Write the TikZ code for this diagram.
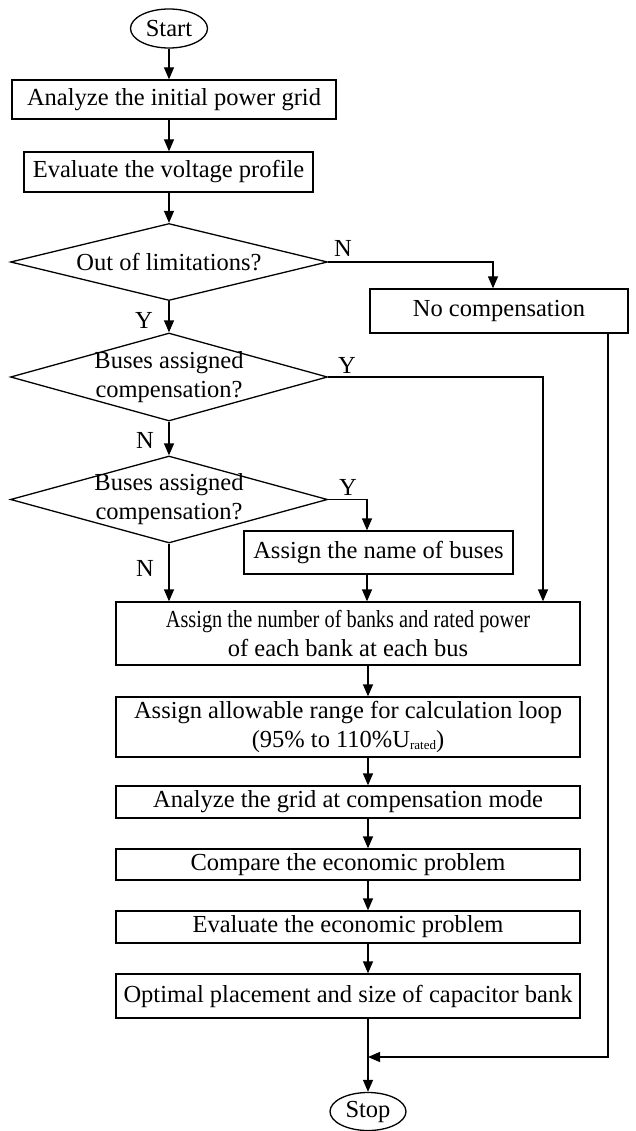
\documentclass[tikz,border=0pt]{standalone}
\usepackage{fontspec}
\setmainfont{Liberation Serif}
\usetikzlibrary{shapes.geometric,arrows.meta}
\begin{document}
\begin{tikzpicture}[x=1pt,y=-1pt,
  every node/.style={font=\fontsize{24.5}{29}\selectfont},
  line/.style={line width=1.3pt},
  arr/.style={line width=1.3pt,-{Triangle[length=12pt,width=10pt]}},
  procbox/.style={draw,line width=1.3pt,rectangle,inner sep=0pt,align=center},
  term/.style={draw,line width=1.3pt,ellipse,inner sep=0pt,minimum width=77pt,minimum height=39pt},
  dia/.style={draw,line width=1.3pt,diamond,inner sep=0pt},
  lbl/.style={inner sep=0pt}]
\useasboundingbox (0,0) rectangle (636,1131);
\coordinate (mx) at (169,0);
\coordinate (lx) at (368,0);
\node[term] (start) at (169,28.5) {Start};
\node[procbox,minimum width=324pt,minimum height=39pt] (b1) at (174,99.5) {Analyze the initial power grid};
\node[procbox,minimum width=289pt,minimum height=40pt] (b2) at (168.5,172) {Evaluate the voltage profile};
\node[dia,minimum width=317pt,minimum height=77pt,label={[lbl]center:Out of limitations?}] (d1) at (169,262) {};
\node[procbox,minimum width=258pt,minimum height=44pt] (nc) at (499,311) {No compensation};
\node[dia,minimum width=317pt,minimum height=88pt,label={[lbl,align=center]center:Buses assigned\\compensation?}] (d2) at (169,377) {};
\node[dia,minimum width=317pt,minimum height=87pt,label={[lbl,align=center]center:Buses assigned\\compensation?}] (d3) at (169,499.5) {};
\node[procbox,minimum width=269pt,minimum height=43pt] (nb) at (378.5,552.5) {Assign the name of buses};
\node[procbox,minimum width=464pt,minimum height=63pt] (b4) at (348,633.5) {\scalebox{0.83}[1]{Assign the number of banks and rated power}\\of each bank at each bus};
\node[procbox,minimum width=464pt,minimum height=60pt] (b5) at (348,727) {Assign allowable range for calculation loop\\(95\% to 110\%U{\fontsize{13}{13}\selectfont\raisebox{-0.25ex}{rated}})};
\node[procbox,minimum width=464pt,minimum height=32pt] (b6) at (348,802) {Analyze the grid at compensation mode};
\node[procbox,minimum width=464pt,minimum height=31pt] (b7) at (348,864.5) {Compare the economic problem};
\node[procbox,minimum width=464pt,minimum height=32pt] (b8) at (348,927) {Evaluate the economic problem};
\node[procbox,minimum width=464pt,minimum height=44pt] (b9) at (348,996) {Optimal placement and size of capacitor bank};
\coordinate (j) at (368,1057);
\node[term,minimum width=76pt,minimum height=38pt] (stop) at (368,1111.5) {Stop};
% main upper flow
\draw[arr] (start.south) -- (start.south |- b1.north);
\draw[arr] (b1.south -| mx) -- (b2.north -| mx);
\draw[arr] (b2.south -| mx) -- (d1.north);
\draw[arr] (d1.south) -- (d2.north);
\draw[arr] (d2.south) -- (d3.north);
\draw[arr] (d3.south) -- (d3.south |- b4.north);
% branches
\draw[arr] (d1.east) -| (nc.north -| 493,0);
\draw[arr] (d2.east) -| (b4.north -| 543,0);
\draw[arr] (d3.east) -| (nb.north -| 367,0);
\draw[arr] (nb.south -| 367,0) -- (b4.north -| 367,0);
% lower flow
\draw[arr] (b4.south -| lx) -- (b5.north -| lx);
\draw[arr] (b5.south -| lx) -- (b6.north -| lx);
\draw[arr] (b6.south -| lx) -- (b7.north -| lx);
\draw[arr] (b7.south -| lx) -- (b8.north -| lx);
\draw[arr] (b8.south -| lx) -- (b9.north -| lx);
\draw[line] (b9.south -| lx) -- (j);
\draw[arr] (j) -- (stop.north);
\draw[arr] (nc.south -| 608,0) |- (j);
% labels
\node[lbl] (ln1) at (343,248) {N};
\node[lbl] (ly1) at (144,320) {Y};
\node[lbl] (ly2) at (347,365) {Y};
\node[lbl] (ln2) at (145,440) {N};
\node[lbl] (ly3) at (348,487) {Y};
\node[lbl] (ln3) at (145,568) {N};
\end{tikzpicture}
\end{document}
